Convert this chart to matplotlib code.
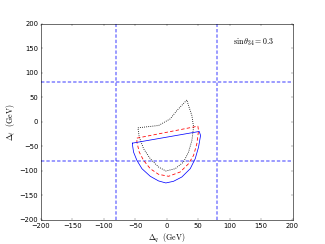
import numpy as np
import matplotlib
matplotlib.use("Agg")
import matplotlib.pyplot as plt

# reference cuts (GeV)
cut_q = [-80, 80]
cut_l = [-80, 80]

# blue solid contour
blue_q = [-54.0, 51.9, 54.0, 50.8, 45.5, 37.6, 24.3, 11.1, -1.1, -12.7, -25.9, -39.1,
          -47.1, -52.4, -54.0, -54.0]
blue_l = [-44.1, -20.3, -28.5, -52.2, -75.9, -96.3, -113.2, -122.0, -125.4, -121.3,
          -111.8, -96.3, -79.3, -62.4, -48.8, -44.1]

# red dashed contour
red_q = [-47.1, 49.7, 50.8, 48.1, 42.9, 34.9, 21.7, 3.2, -12.7, -25.9, -36.5, -43.4,
         -47.1, -47.1]
red_l = [-33.9, -9.5, -18.3, -45.4, -69.1, -86.1, -103.0, -111.8, -107.8, -96.3, -79.3,
         -62.4, -42.0, -33.9]

# black dotted contour
black_q = [-45.5, -12.7, 5.8, 16.4, 32.3, 34.9, 40.2, 42.9, 40.2, 34.9, 27.0, 13.7,
           -1.1, -12.7, -25.9, -36.5, -43.4, -45.5]
black_l = [-12.9, -8.1, 5.4, 22.4, 44.1, 32.6, 12.2, -11.5, -38.6, -62.4, -82.7, -96.3,
           -101.0, -92.9, -75.9, -55.6, -31.8, -12.9]

plt.style.use('classic')
plt.rcParams['mathtext.fontset'] = 'cm'

fig = plt.figure(figsize=(8, 6.03), dpi=40.625)
ax = fig.add_subplot(111)
fig.subplots_adjust(left=0.125, right=0.9, bottom=0.1, top=0.9)

# classic style: dash lengths are in points, not scaled by width
for v in cut_q:
    ax.axvline(v, color='blue', alpha=0.45, lw=3, dashes=(6, 3.5))
for v in cut_l:
    ax.axhline(v, color='blue', alpha=0.45, lw=3, dashes=(6, 3.5))

ax.plot(black_q, black_l, color='k', lw=1.5, dashes=(1.5, 2.2))
ax.plot(red_q, red_l, color='r', lw=1.4, dashes=(6, 4))
ax.plot(blue_q, blue_l, 'b-', lw=1.3)

ax.text(105, 163, r'$\sin\theta_{34}=0.3$', fontsize=14, va='center')

ax.set_xlim(-200, 200)
ax.set_ylim(-200, 200)
ax.set_xlabel(r'$\Delta_q\ \ ({\rm GeV})$', fontsize=14)
ax.set_ylabel(r'$\Delta_\ell\ \ ({\rm GeV})$', fontsize=14)

fig.savefig('out.png', dpi=40.625)
